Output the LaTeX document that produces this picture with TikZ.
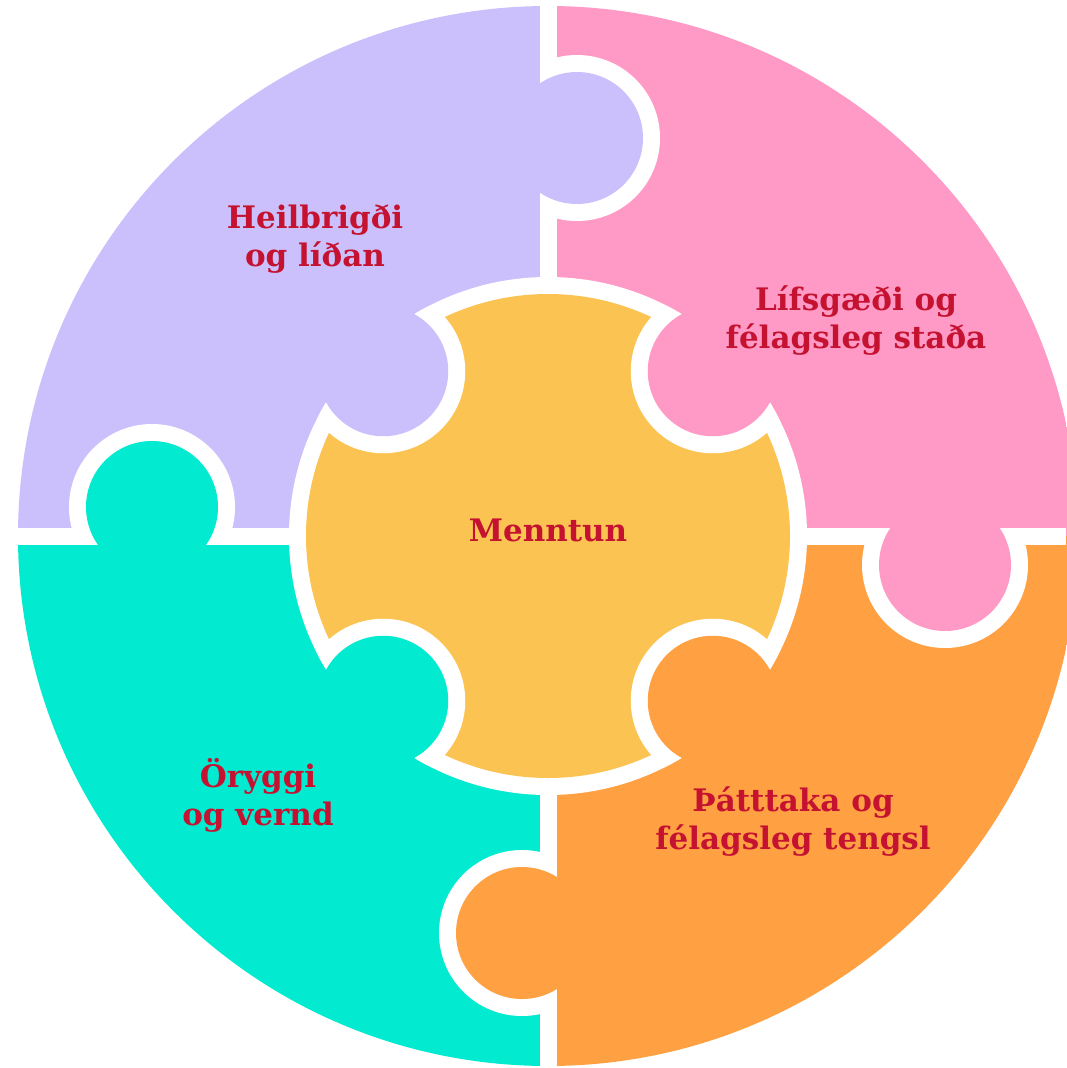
\documentclass[tikz,border=0pt]{standalone}
\usepackage{fontspec}
\setmainfont{DejaVu Serif}
\usepackage{xcolor}
\definecolor{lavender}{RGB}{203,192,252}
\definecolor{pinkpiece}{RGB}{255,154,199}
\definecolor{tealpiece}{RGB}{2,235,209}
\definecolor{orangepiece}{RGB}{255,160,67}
\definecolor{yellowpiece}{RGB}{251,196,82}
\definecolor{labelred}{RGB}{196,18,48}
\tikzset{
	gap/.style={draw=white, line width=17pt},
	piecetext/.style={text=labelred, align=center,
		font=\bfseries\fontsize{31}{38}\selectfont},
}

\begin{document}
\begin{tikzpicture}[x=1pt,y=-1pt]
	\fill[white] (0,0) rectangle (1066,1068);
	\useasboundingbox (0,0) rectangle (1066,1068);
	% four quarters of the disc
	\begin{scope}
	\clip (548,536) circle (530pt);
	\fill[lavender] (548,536) rectangle (0,0);
	\fill[pinkpiece] (548,536) rectangle (1100,0);
	\fill[tealpiece] (548,536) rectangle (0,1100);
	\fill[orangepiece] (548,536) rectangle (1100,1100);
	\end{scope}
	\draw[gap] (548,0) -- (548,1068);
	\draw[gap] (0,536) -- (1066,536);
	% tabs on the outer seams
	\begin{scope}
	\clip (548,0) rectangle (1066,536);
	\fill[white] (577,138) circle (83pt);
	\end{scope}
	\fill[lavender] (577,138) circle (66pt);
	\begin{scope}
	\clip (548,536) rectangle (1066,1068);
	\fill[white] (945,565) circle (83pt);
	\end{scope}
	\fill[pinkpiece] (945,565) circle (66pt);
	\begin{scope}
	\clip (0,536) rectangle (548,1068);
	\fill[white] (522,933) circle (83pt);
	\end{scope}
	\fill[orangepiece] (522,933) circle (66pt);
	\begin{scope}
	\clip (0,0) rectangle (548,536);
	\fill[white] (152,507) circle (83pt);
	\end{scope}
	\fill[tealpiece] (152,507) circle (66pt);
	% centre piece
	\fill[white] (548,536) circle (259pt);
	\fill[yellowpiece] (548,536) circle (242pt);
	\begin{scope}[shift={(548,536)}]
	\foreach \ang/\col in {135/lavender,45/pinkpiece,225/tealpiece,315/orangepiece}{
		\begin{scope}
		\clip (0,0) circle (259pt);
		\fill[white] (\ang:233pt) circle (82pt);
		\end{scope}
		\fill[\col] (\ang:233pt) circle (65pt);
	}
	\end{scope}
	% texts
	\node[piecetext] (heilsa) at (315,239) {Heilbrigði\\og líðan};
	\node[piecetext] (lifsgaedi) at (856,321) {Lífsgæði og\\félagsleg staða};
	\node[piecetext] (menntun) at (548,530) {Menntun};
	\node[piecetext] (oryggi) at (258,795) {Öryggi\\og vernd};
	\node[piecetext] (thatttaka) at (793,822) {Þátttaka og\\félagsleg tengsl};
\end{tikzpicture}
\end{document}
